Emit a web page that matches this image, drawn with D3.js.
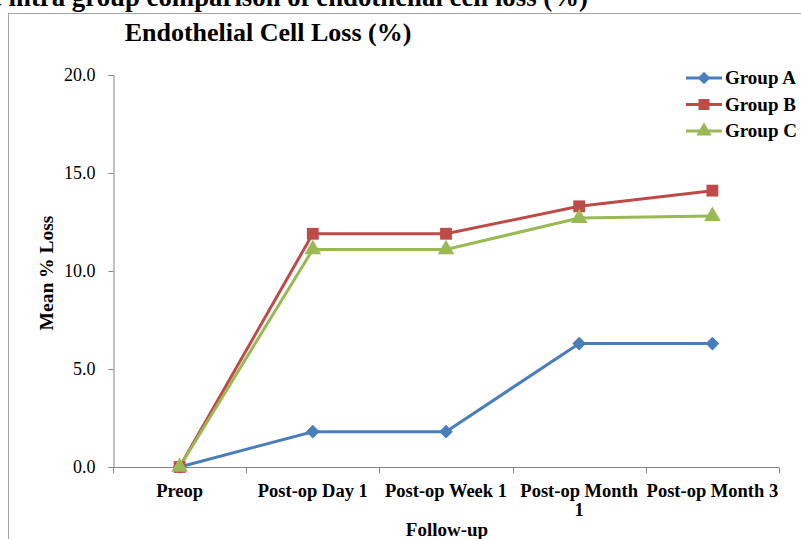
<!DOCTYPE html>
<html>
<head>
<meta charset="utf-8">
<script src="https://cdn.jsdelivr.net/npm/d3@7"></script>
<style>
  body { margin: 0; background: #fff; }
  svg { display: block; }
  text { font-family: "Liberation Serif", "Times New Roman", serif; }
</style>
</head>
<body>
<div id="chart"></div>
<script>
var categories = ['Preop', 'Post-op Day 1', 'Post-op Week 1', 'Post-op Month 1', 'Post-op Month 3'];
var groupA = [0, 1.8, 1.8, 6.3, 6.3];
var groupB = [0, 11.9, 11.9, 13.3, 14.1];
var groupC = [0, 11.1, 11.1, 12.7, 12.8];
var yTicks = [0, 5, 10, 15, 20];

var series = [
  { name: 'Group A', values: groupA, color: '#4A7EBB', shape: d3.symbolDiamond2 },
  { name: 'Group B', values: groupB, color: '#BE4B48', shape: d3.symbolSquare },
  { name: 'Group C', values: groupC, color: '#98B954', shape: d3.symbolTriangle }
];

var width = 801, height = 539;
var svg = d3.select('#chart').append('svg')
  .attr('width', width)
  .attr('height', height);

// caption from the page, only its lower half shows at the top
svg.append('text')
  .attr('x', -10)
  .attr('y', 6)
  .style('font-size', '26.8px')
  .style('font-weight', 'bold')
  .text('e intra group comparison of endothelial cell loss (%)');

// chart frame
svg.append('rect')
  .attr('x', 8.5).attr('y', 13.5)
  .attr('width', 820).attr('height', 600)
  .style('fill', 'none')
  .style('stroke', '#a6a6a6');

svg.append('text')
  .attr('x', 268)
  .attr('y', 41)
  .attr('text-anchor', 'middle')
  .style('font-size', '26px')
  .style('font-weight', 'bold')
  .text('Endothelial Cell Loss (%)');

var x = d3.scaleBand().domain(categories).range([113, 779]).padding(0);
var y = d3.scaleLinear().domain([0, 20]).range([467, 75]);

// y axis
var yAxis = svg.append('g')
  .attr('transform', 'translate(113.5,0)')
  .call(d3.axisLeft(y).tickValues(yTicks).tickSize(5).tickFormat(d3.format('.1f')));
yAxis.select('.domain').style('stroke', '#868686');
yAxis.selectAll('.tick line').style('stroke', '#868686');
yAxis.selectAll('.tick text')
  .attr('x', -18)
  .style('font-size', '18px')
  .style('font-family', '"Liberation Serif", serif')
  .style('fill', '#000');

// x axis: line and boundary ticks
var xg = svg.append('g').attr('transform', 'translate(0,467.5)');
xg.append('line')
  .attr('x1', 113).attr('x2', 779)
  .style('stroke', '#868686');
var bounds = categories.map(function(c) { return x(c); }).concat([x(categories[categories.length - 1]) + x.bandwidth()]);
xg.selectAll('.bt').data(bounds).enter().append('line')
  .attr('x1', function(d) { return Math.round(d) + 0.5; })
  .attr('x2', function(d) { return Math.round(d) + 0.5; })
  .attr('y1', 0).attr('y2', 6)
  .style('stroke', '#868686');

// x labels, wrapped to the band width (the last one may run to the edge)
var wrapWidth = x.bandwidth() - 8;
var labels = xg.selectAll('.xl').data(categories).enter().append('text')
  .attr('x', function(d) { return x(d) + x.bandwidth() / 2; })
  .attr('y', 29)
  .attr('text-anchor', 'middle')
  .style('font-size', '18.5px')
  .style('font-weight', 'bold')
  .text(function(d) { return d; });

labels.each(function(d, i) {
  var t = d3.select(this);
  if (i === categories.length - 1 || this.getComputedTextLength() <= wrapWidth) return;
  var words = d.split(' ');
  var cx = t.attr('x');
  t.text(null);
  var line = [];
  var ts = t.append('tspan').attr('x', cx).attr('dy', 0);
  words.forEach(function(w) {
    line.push(w);
    ts.text(line.join(' '));
    if (ts.node().getComputedTextLength() > wrapWidth && line.length > 1) {
      line.pop();
      ts.text(line.join(' '));
      line = [w];
      ts = t.append('tspan').attr('x', cx).attr('dy', '1.05em').text(w);
    }
  });
});

svg.append('text')
  .attr('x', 447)
  .attr('y', 536)
  .attr('text-anchor', 'middle')
  .style('font-size', '19px')
  .style('font-weight', 'bold')
  .text('Follow-up');

svg.append('text')
  .attr('transform', 'translate(53,273) rotate(-90)')
  .attr('text-anchor', 'middle')
  .style('font-size', '19.5px')
  .style('font-weight', 'bold')
  .text('Mean % Loss');

// lines and markers
var line = d3.line()
  .x(function(d, i) { return x(categories[i]) + x.bandwidth() / 2; })
  .y(function(d) { return y(d); });

series.forEach(function(s) {
  svg.append('path')
    .datum(s.values)
    .attr('d', line)
    .style('fill', 'none')
    .style('stroke', s.color)
    .style('stroke-width', 3);
});

series.forEach(function(s) {
  svg.selectAll(null).data(s.values).enter().append('path')
    .attr('d', d3.symbol().type(s.shape).size(s.shape === d3.symbolSquare ? 140 : 120))
    .attr('transform', function(d, i) {
      return 'translate(' + (x(categories[i]) + x.bandwidth() / 2) + ',' + y(d) + ')';
    })
    .style('fill', s.color);
});

// legend
var legend = svg.append('g');
series.forEach(function(s, i) {
  var ly = 78 + i * 26.5;
  legend.append('line')
    .attr('x1', 686).attr('x2', 722)
    .attr('y1', ly).attr('y2', ly)
    .style('stroke', s.color)
    .style('stroke-width', 3);
  legend.append('path')
    .attr('d', d3.symbol().type(s.shape).size(s.shape === d3.symbolSquare ? 120 : 100))
    .attr('transform', 'translate(704,' + ly + ')')
    .style('fill', s.color);
  legend.append('text')
    .attr('x', 725)
    .attr('y', ly + 6)
    .style('font-size', '19px')
    .style('font-weight', 'bold')
    .text(s.name);
});
</script>
</body>
</html>
